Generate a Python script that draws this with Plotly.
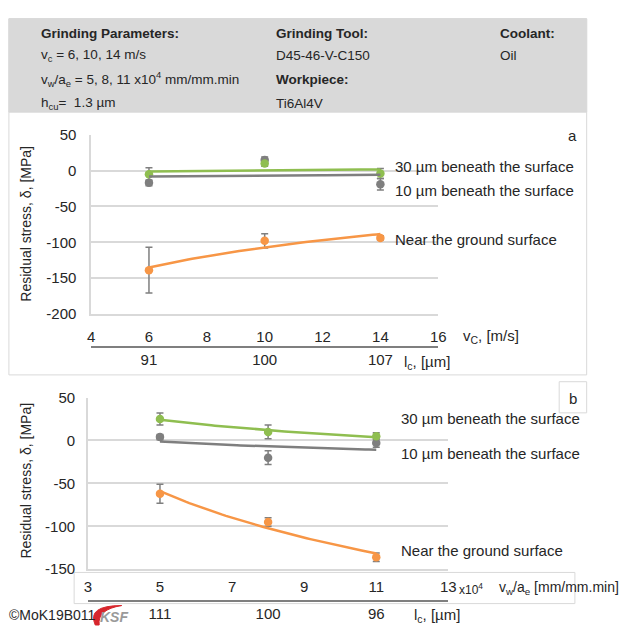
import numpy as np
import plotly.graph_objects as go

# ---------------- data ----------------
vc = [6, 10, 14]
lc_a = ["91", "100", "107"]
a_near = [-139, -98, -94]
a_near_err = [32, 10, 3]
a_10 = [-17, 15, -19]
a_10_err = [4, 4, 8]
a_30 = [-5, 10, -4]
a_30_err = [9, 4, 7]

vwae = [5, 8, 11]
lc_b = ["111", "100", "96"]
b_near = [-62, -95, -136]
b_near_err = [11, 5, 5]
b_10 = [4, -20, -3]
b_10_err = [3, 8, 5]
b_30 = [25, 10, 5]
b_30_err = [7, 8, 4]

a_xticks = [4, 6, 8, 10, 12, 14, 16]
b_xticks = [3, 5, 7, 9, 11, 13]
a_yticks = [50, 0, -50, -100, -150, -200]
b_yticks = [50, 0, -50, -100, -150]

ORANGE = "#F79646"
GREEN = "#8FBE50"
GRAY = "#7F7F7F"
ERR = "#7F7F7F"
GRID = "#D9D9D9"
TXT = "#262626"
FONT = "Liberation Sans, Arial, sans-serif"

W, H = 629, 633
def X(px):
    return px / W
def Y(py):
    return 1 - py / H

def logfit(x, y):
    b, a = np.polyfit(np.log(x), y, 1)
    xs = np.linspace(min(x), max(x), 60)
    return xs, a + b * np.log(xs)

fig = go.Figure()

def add_series(x, y, err, color, xa, ya):
    fig.add_trace(go.Scatter(
        x=x, y=y, mode="markers", xaxis=xa, yaxis=ya,
        marker=dict(color=color, size=8.5),
        error_y=dict(type="data", array=err, color=ERR, thickness=1.5, width=3.5),
        showlegend=False, hoverinfo="skip"))

def add_trend(x, y, color, xa, ya):
    xs, ys = logfit(x, y)
    fig.add_trace(go.Scatter(
        x=xs, y=ys, mode="lines", xaxis=xa, yaxis=ya,
        line=dict(color=color, width=2.5), showlegend=False, hoverinfo="skip"))

# chart a
for y, e, c in [(a_near, a_near_err, ORANGE), (a_10, a_10_err, GRAY), (a_30, a_30_err, GREEN)]:
    add_series(vc, y, e, c, "x", "y")
for y, c in [(a_near, ORANGE), (a_10, GRAY), (a_30, GREEN)]:
    add_trend(vc, y, c, "x", "y")
# chart b
for y, e, c in [(b_near, b_near_err, ORANGE), (b_10, b_10_err, GRAY), (b_30, b_30_err, GREEN)]:
    add_series(vwae, y, e, c, "x2", "y2")
for y, c in [(b_near, ORANGE), (b_10, GRAY), (b_30, GREEN)]:
    add_trend(vwae, y, c, "x2", "y2")

# invisible traces for the secondary (l_c) axes
fig.add_trace(go.Scatter(x=vc, y=[None] * 3, xaxis="x3", yaxis="y", mode="markers",
                         showlegend=False, hoverinfo="skip"))
fig.add_trace(go.Scatter(x=vwae, y=[None] * 3, xaxis="x4", yaxis="y2", mode="markers",
                         showlegend=False, hoverinfo="skip"))

tickfont = dict(family=FONT, size=15, color=TXT)
ax_common = dict(showgrid=False, zeroline=False, ticks="", tickfont=tickfont)

def labels(vals):
    return [str(v) for v in vals]

fig.update_layout(
    width=W, height=H, margin=dict(l=0, r=0, t=0, b=0),
    paper_bgcolor="white", plot_bgcolor="rgba(0,0,0,0)",
    font=dict(family=FONT, color=TXT),
    xaxis=dict(domain=[X(88.8), X(442.7)], range=[4, 16], tickvals=a_xticks,
               ticktext=labels(a_xticks),
               anchor="y", showline=True, linecolor=GRID, linewidth=1.5,
               ticklabelstandoff=8, **ax_common),
    yaxis=dict(domain=[Y(313.3), Y(129.3)], range=[-200, 50], tickvals=a_yticks,
               ticktext=labels(a_yticks),
               anchor="x", showgrid=True, gridcolor=GRID, gridwidth=1.5, zeroline=False,
               showline=True, linecolor=GRID, linewidth=1.5, ticks="",
               ticklabelstandoff=10, tickfont=tickfont),
    xaxis3=dict(overlaying="x", range=[4, 16], tickvals=vc, ticktext=lc_a,
                anchor="free", position=Y(347), side="bottom",
                showline=True, linecolor=GRAY, linewidth=1.5,
                ticklabelstandoff=0, **ax_common),
    xaxis2=dict(domain=[X(85.5), X(453)], range=[3, 13], tickvals=b_xticks,
                ticktext=labels(b_xticks),
                anchor="y2", showline=True, linecolor=GRID, linewidth=1.5,
                ticklabelstandoff=3, **ax_common),
    yaxis2=dict(domain=[Y(575.7), Y(399.3)], range=[-150, 50], tickvals=b_yticks,
                ticktext=labels(b_yticks),
                anchor="x2", showgrid=True, gridcolor=GRID, gridwidth=1.5, zeroline=False,
                showline=True, linecolor=GRID, linewidth=1.5, ticks="",
                ticklabelstandoff=8, tickfont=tickfont),
    xaxis4=dict(overlaying="x2", range=[3, 13], tickvals=vwae, ticktext=lc_b,
                anchor="free", position=Y(608), side="bottom",
                showline=True, linecolor=GRAY, linewidth=1.5,
                ticklabelstandoff=0, **ax_common),
)

shapes = [
    # top panel frame
    dict(type="rect", xref="paper", yref="paper", x0=X(5), x1=X(594), y0=Y(376), y1=Y(10),
         line=dict(color=GRID, width=1), fillcolor="white", layer="below"),
    # header
    dict(type="rect", xref="paper", yref="paper", x0=X(5), x1=X(594), y0=Y(106), y1=Y(10),
         line=dict(color=GRID, width=1), fillcolor="#D9D9D9", layer="below"),
    # "b" box
    dict(type="rect", xref="paper", yref="paper", x0=X(566), x1=X(594), y0=Y(415), y1=Y(383),
         line=dict(color=GRID, width=1), fillcolor="white", layer="below"),
    # bottom x-label box
    dict(type="rect", xref="paper", yref="paper", x0=X(71.5), x1=X(582), y0=Y(611), y1=Y(579),
         line=dict(color=GRID, width=1), fillcolor="white", layer="below"),
    # KSF swoosh
    dict(type="path", xref="paper", yref="paper",
         path=(f"M {X(93)},{Y(633)} Q {X(84)},{Y(613)} {X(120)},{Y(613)} "
               f"Q {X(95)},{Y(617)} {X(97)},{Y(633)} Z"),
         fillcolor="#D7262C", line=dict(color="#D7262C", width=1)),
]

def ann(px, py, text, size=15, bold=False, xanchor="left", angle=0, color=TXT, italic=False):
    t = f"<b>{text}</b>" if bold else text
    if italic:
        t = f"<i>{t}</i>"
    return dict(x=X(px), y=Y(py), xref="paper", yref="paper", text=t, showarrow=False,
                xanchor=xanchor, yanchor="middle", textangle=angle,
                font=dict(family=FONT, size=size, color=color))

HF = 13.5
annotations = [
    ann(36, 25, "Grinding Parameters:", HF, bold=True),
    ann(36, 48, "v<sub>c</sub> = 6, 10, 14 m/s", HF),
    ann(36, 72, "v<sub>w</sub>/a<sub>e</sub> = 5, 8, 11 x10<sup>4</sup> mm/mm.min", HF),
    ann(36, 97, "h<sub>cu</sub>=  1.3 µm", HF),
    ann(275, 25, "Grinding Tool:", HF, bold=True),
    ann(275, 48, "D45-46-V-C150", HF),
    ann(275, 72, "Workpiece:", HF, bold=True),
    ann(275, 97, "Ti6Al4V", HF),
    ann(504, 25, "Coolant:", HF, bold=True),
    ann(504, 48, "Oil", HF),
    # chart a
    ann(580, 130, "a", 15, xanchor="center"),
    ann(397, 162, "30 µm beneath the surface"),
    ann(397, 186, "10 µm beneath the surface"),
    ann(397, 237, "Near the ground surface"),
    ann(466, 337, "v<sub>C</sub>, [m/s]"),
    ann(406, 363, "l<sub>c</sub>, [µm]"),
    ann(22, 221, "Residual stress, δ, [MPa]", 14, xanchor="center", angle=-90),
    # chart b
    ann(580, 400, "b", 15, xanchor="center"),
    ann(403, 421, "30 µm beneath the surface"),
    ann(403, 457, "10 µm beneath the surface"),
    ann(403, 556, "Near the ground surface"),
    ann(462, 596, "x10<sup>4</sup>", 12),
    ann(503, 595, "v<sub>w</sub>/a<sub>e</sub> [mm/mm.min]", 14),
    ann(416, 623, "l<sub>c</sub>, [µm]"),
    ann(22, 485, "Residual stress, δ, [MPa]", 14, xanchor="center", angle=-90),
    ann(3, 623, "©MoK19B011", 14),
    ann(96, 625, "KSF", 14, bold=True, italic=True, color="#9A9A9A"),
]

fig.update_layout(shapes=shapes, annotations=annotations)
fig.write_html("out.html", config={"displayModeBar": False},
               post_script="document.body.style.margin='0';document.body.style.padding='0';")
